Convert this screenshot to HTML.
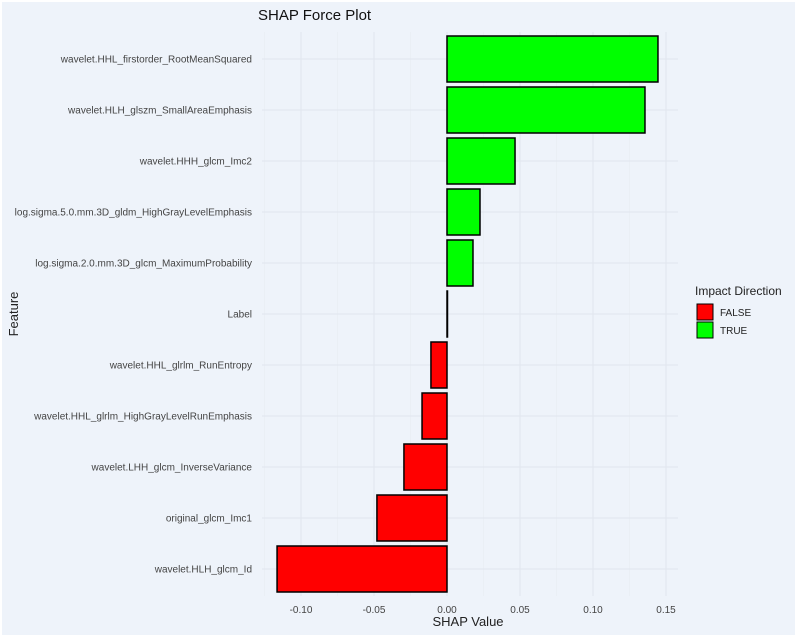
<!DOCTYPE html>
<html><head><meta charset="utf-8"><style>
html,body{margin:0;padding:0;background:#fff}
svg{display:block;font-family:"Liberation Sans",sans-serif}
</style></head><body>
<svg id="c" width="797" height="637">
<rect x="2" y="2" width="793" height="633" fill="#eef3fa"/>
<text x="258" y="20" font-size="15" fill="#111">SHAP Force Plot</text>
<text x="468" y="626" font-size="13" fill="#222" text-anchor="middle">SHAP Value</text>
<text transform="translate(18,314) rotate(-90)" font-size="13" fill="#222" text-anchor="middle">Feature</text>
<g>
<text x="695" y="295" font-size="12" fill="#222">Impact Direction</text>
<rect x="697" y="304" width="16" height="16" fill="#ff0000" stroke="#000"/>
<text x="720" y="316" font-size="10" fill="#222">FALSE</text>
<rect x="697" y="322" width="16" height="16" fill="#00ff00" stroke="#000"/>
<text x="720" y="334" font-size="10" fill="#222">TRUE</text>
</g>
<g id="plot"></g>
</svg>
<script>
const features=["wavelet.HHL_firstorder_RootMeanSquared","wavelet.HLH_glszm_SmallAreaEmphasis","wavelet.HHH_glcm_Imc2","log.sigma.5.0.mm.3D_gldm_HighGrayLevelEmphasis","log.sigma.2.0.mm.3D_glcm_MaximumProbability","Label","wavelet.HHL_glrlm_RunEntropy","wavelet.HHL_glrlm_HighGrayLevelRunEmphasis","wavelet.LHH_glcm_InverseVariance","original_glcm_Imc1","wavelet.HLH_glcm_Id"];
const shapValues=[0.1445,0.1356,0.0466,0.0226,0.0178,0,-0.011,-0.0171,-0.0295,-0.048,-0.1164];
const xTicks=[-0.10,-0.05,0.00,0.05,0.10,0.15];
const xTickLabels=["-0.10","-0.05","0.00","0.05","0.10","0.15"];
const xMinor=[-0.125,-0.075,-0.025,0.025,0.075,0.125];
const NS="http://www.w3.org/2000/svg";
const g=document.getElementById('plot');
const x=v=>447+v*1460;
const y=i=>59+i*51;
function mk(t,a){const e=document.createElementNS(NS,t);for(const k in a)e.setAttribute(k,a[k]);g.appendChild(e);return e;}
xMinor.forEach(t=>{
 const l=mk('line',{x1:x(t),x2:x(t),y1:32,y2:596,stroke:'#e8edf3','stroke-width':0.7});
 
 
});
xTicks.forEach((t,i)=>{
 const l=mk('line',{x1:x(t),x2:x(t),y1:32,y2:596,stroke:'#e0e6ee','stroke-width':1});
 
 
 const tx=mk('text',{x:x(t),y:613,'font-size':10,fill:'#444','text-anchor':'middle'});
 tx.textContent=xTickLabels[i];
 
 
});
features.forEach((f,i)=>{
 const l=mk('line',{x1:262,x2:678,y1:y(i),y2:y(i),stroke:'#e0e6ee','stroke-width':1});
 
 
 const tx=mk('text',{x:252,y:y(i)+3.5,'font-size':10,fill:'#444','text-anchor':'end'});
 tx.textContent=f;
 
 
});
shapValues.forEach((v,i)=>{
 const x0=Math.min(x(0),x(v)),w=Math.abs(x(v)-x(0));
 const r=mk('rect',{x:x0,y:y(i)-23,width:Math.max(w,0.5),height:46,fill:v>=0?'#00ff00':'#ff0000',stroke:'#000','stroke-width':1.5});
 
 
});
</script>
</body></html>
